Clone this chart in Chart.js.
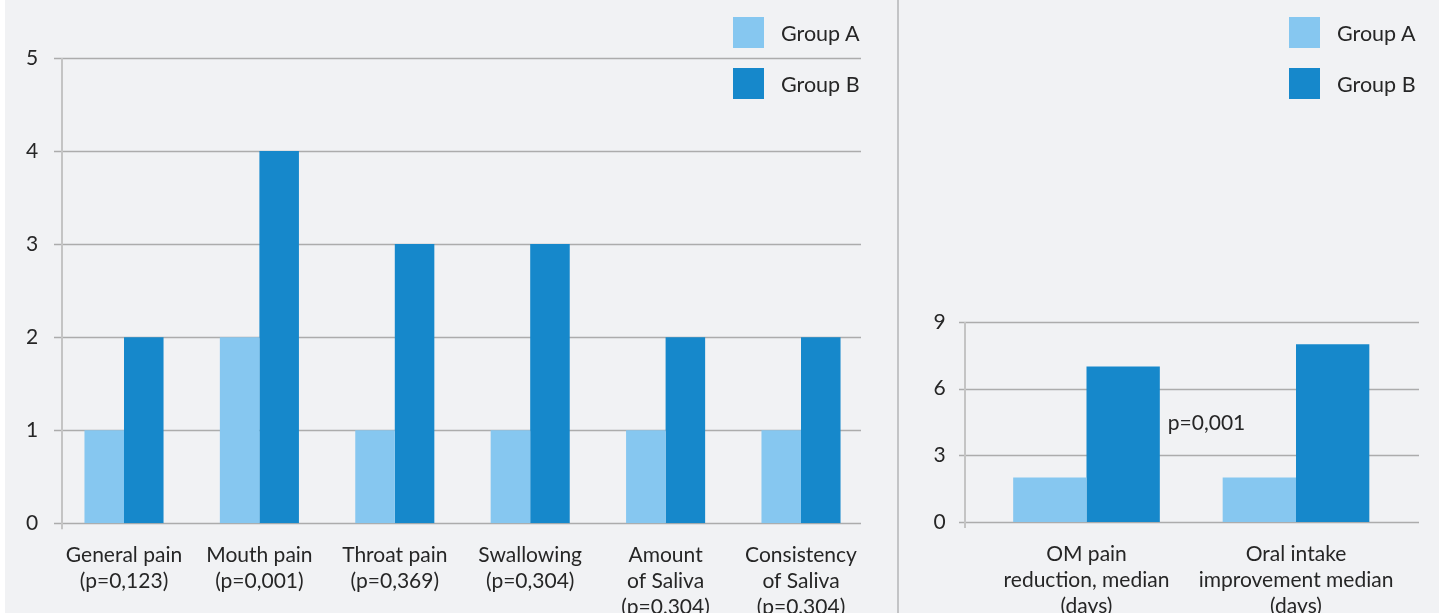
<!DOCTYPE html>
<html>
<head>
<meta charset="utf-8">
<script src="https://cdn.jsdelivr.net/npm/chart.js@4/dist/chart.umd.min.js"></script>
<style>
  body { margin: 0; background: #ffffff; width: 1446px; height: 614px; overflow: hidden; font-family: Lato, "Open Sans", sans-serif; }
  #panel { position: absolute; left: 5px; top: 0; width: 1434px; height: 613px; background: #f1f2f4; }
  #divider { position: absolute; left: 897px; top: 0; width: 2px; height: 613px; background: #c3c4c6; }
  #leftBox { position: absolute; left: 5px; top: 0; width: 890px; height: 613px; }
  #rightBox { position: absolute; left: 900px; top: 0; width: 539px; height: 613px; }
  .legend { position: absolute; top: 17px; }
  #leftLegend { left: 733px; }
  #rightLegend { left: 1289px; }
  .item { display: flex; align-items: center; height: 31px; margin-bottom: 20px; }
  .swatch { width: 31px; height: 31px; margin-right: 17px; }
  .item span { font-size: 21.5px; color: #262626; }
</style>
</head>
<body>
<div id="panel"></div>
<div id="divider"></div>
<div id="leftBox"><canvas id="leftChart"></canvas></div>
<div id="rightBox"><canvas id="rightChart"></canvas></div>
<div class="legend" id="leftLegend"></div>
<div class="legend" id="rightLegend"></div>

<script>
// symptom scores
let symptomLabels = [
    ["General pain", "(p=0,123)"],
    ["Mouth pain", "(p=0,001)"],
    ["Throat pain", "(p=0,369)"],
    ["Swallowing", "(p=0,304)"],
    ["Amount", "of Saliva", "(p=0,304)"],
    ["Consistency", "of Saliva", "(p=0,304)"]
]
let symptomGroupA = [1, 2, 1, 1, 1, 1]
let symptomGroupB = [2, 4, 3, 3, 2, 2]
let symptomTicks = [0, 1, 2, 3, 4, 5]

// days to improvement
let daysLabels = [
    ["OM pain", "reduction, median", "(days)"],
    ["Oral intake", "improvement median", "(days)"]
]
let daysGroupA = [2, 2]
let daysGroupB = [7, 8]
let daysTicks = [0, 3, 6, 9]
let daysNote = "p=0,001"
let daysNoteValue = 4.45

let seriesNames = ["Group A", "Group B"]
let seriesColors = ["#86c7f0", "#1688cb"]

let textColor = "#262626"
let fontFamily = "Lato, 'Open Sans', sans-serif"

Chart.defaults.font.family = fontFamily
Chart.defaults.color = textColor
Chart.defaults.animation = false


// grid lines and the y axis line, drawn under the bars
const gridPlugin = {
    id: 'gridLines',
    beforeDatasetsDraw(chart, args, opts) {
        const ctx = chart.ctx
        const area = chart.chartArea
        const y = chart.scales.y
        ctx.save()
        ctx.strokeStyle = '#acacac'
        ctx.lineWidth = 1.3
        y.ticks.forEach(t => {
            let py = Math.round(y.getPixelForValue(t.value)) + 0.5
            ctx.beginPath()
            ctx.moveTo(area.left + opts.gridFrom, py)
            ctx.lineTo(area.right + opts.gridTo, py)
            ctx.stroke()
        })
        // y axis line
        let ax = Math.round(area.left + opts.axisAt)
        ctx.strokeStyle = '#c4c4c4'
        ctx.lineWidth = 2
        ctx.beginPath()
        ctx.moveTo(ax, y.getPixelForValue(y.max))
        ctx.lineTo(ax, y.getPixelForValue(0) + 6)
        ctx.stroke()
        ctx.restore()
    }
}

// p value written next to the first pair of bars
const notePlugin = {
    id: 'note',
    afterDatasetsDraw(chart, args, opts) {
        if (!opts.text) return
        const bar = chart.getDatasetMeta(1).data[0]
        const ctx = chart.ctx
        ctx.save()
        ctx.font = '21px ' + fontFamily
        ctx.fillStyle = textColor
        ctx.textAlign = 'left'
        ctx.textBaseline = 'middle'
        ctx.fillText(opts.text, bar.x + bar.width / 2 + 8, chart.scales.y.getPixelForValue(opts.value))
        ctx.restore()
    }
}


function makeChart(canvasId, labels, a, b, ticks, layout) {
    let ctx = document.getElementById(canvasId)
    return new Chart(ctx, {
        type: 'bar',
        data: {
            labels: labels,
            datasets: [a, b].map((values, i) => ({
                label: seriesNames[i],
                data: values,
                backgroundColor: seriesColors[i],
                borderWidth: 0,
                barPercentage: 1.0,
                categoryPercentage: layout.catPct
            }))
        },
        options: {
            responsive: true,
            maintainAspectRatio: false,
            layout: {
                padding: { top: layout.top, right: layout.right, left: 0, bottom: 0 }
            },
            scales: {
                x: {
                    grid: { display: false, drawTicks: false },
                    border: { display: false },
                    ticks: {
                        autoSkip: false,
                        maxRotation: 0,
                        padding: 19,
                        font: { size: 21, lineHeight: '26px' }
                    },
                    afterFit: s => { s.height = layout.xHeight }
                },
                y: {
                    min: ticks[0],
                    max: ticks[ticks.length - 1],
                    afterBuildTicks: s => { s.ticks = ticks.map(v => ({ value: v })) },
                    grid: { display: false, drawTicks: false },
                    border: { display: false },
                    ticks: {
                        padding: layout.tickPad,
                        font: { size: 21 }
                    },
                    afterFit: s => { s.width = layout.yWidth }
                }
            },
            plugins: {
                legend: { display: false },
                tooltip: { enabled: false },
                gridLines: layout.grid,
                note: layout.note || {}
            }
        },
        plugins: [gridPlugin, notePlugin]
    })
}


function buildLegend(id) {
    let el = document.getElementById(id)
    el.innerHTML = seriesNames.map((name, i) =>
        '<div class="item"><div class="swatch" style="background:' + seriesColors[i] + '"></div><span>' + name + '</span></div>'
    ).join('')
}


makeChart('leftChart', symptomLabels, symptomGroupA, symptomGroupB, symptomTicks, {
    catPct: 0.584,
    top: 58,
    right: 26.3,
    yWidth: 51.3,
    xHeight: 89.7,
    tickPad: 18,
    grid: { gridFrom: -2.3, gridTo: -7.7, axisAt: 5.7 }
})

makeChart('rightChart', daysLabels, daysGroupA, daysGroupB, daysTicks, {
    catPct: 0.70,
    top: 322,
    right: 38.25,
    yWidth: 81.75,
    xHeight: 91,
    tickPad: 36,
    grid: { gridFrom: -22.75, gridTo: 18.25, axisAt: -16.75 },
    note: { text: daysNote, value: daysNoteValue }
})

buildLegend('leftLegend')
buildLegend('rightLegend')
</script>
</body>
</html>
